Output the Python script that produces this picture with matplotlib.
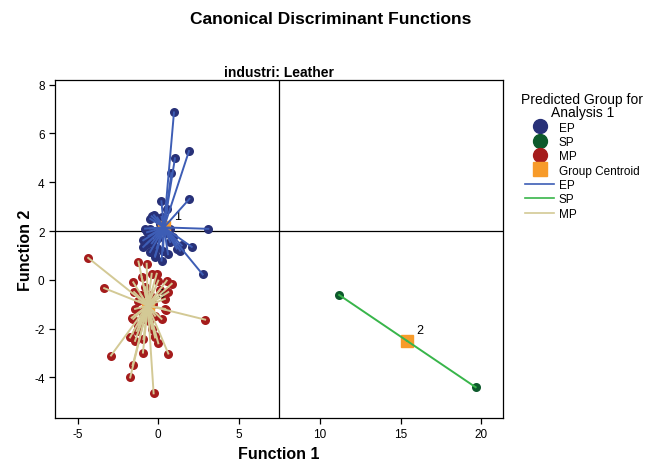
import matplotlib.pyplot as plt
from matplotlib.lines import Line2D

plt.rcParams['font.family'] = ['Liberation Sans', 'DejaVu Sans']
plt.rcParams['axes.unicode_minus'] = False

# group membership scores (Function 1, Function 2)
ep_x = [0.97, 1.9, 1.03, 0.81, 1.93, 0.19, 0.55, -0.41, -0.06, 0.2, -0.5, -0.27,
        -0.82, -0.5, 3.1, -0.93, -0.72, -0.93, -0.51, -0.2, 0.2, 0.73, 1.45, 2.07,
        1.35, 0.93, 2.75, 0.73, -0.3, 0.0, -0.1, 0.3, -0.6, 1.14, -0.7, 0.1,
        -0.4, 0.5, -0.2, 0.6]
ep_y = [6.86, 5.28, 4.98, 4.37, 3.32, 3.22, 2.9, 2.6, 2.55, 2.58, 2.5, 2.65,
        2.1, 2.1, 2.09, 1.62, 1.48, 1.35, 1.14, 1.0, 0.79, 1.55, 1.41, 1.35,
        1.2, 1.76, 0.22, 2.1, 1.9, 1.7, 1.3, 1.2, 1.8, 1.28, 1.95, 2.3,
        1.5, 1.9, 0.95, 1.05]

sp_x = [11.2, 19.65]
sp_y = [-0.62, -4.4]

mp_x = [-4.34, -3.35, 2.9, -2.93, -1.59, -1.74, -0.29, 0.62, -0.95, -1.23, -0.72,
        -1.55, -1.03, -0.41, -0.1, 0.0, 0.52, 0.83, 0.62, 0.41, 0.41, -1.23, -1.55,
        -1.44, -1.75, -1.34, -0.2, -0.2, -0.92, -1.23, 0.46, -0.2, -1.44, -1.65,
        -0.8, -0.5, -1.0, -0.3, 0.1, -0.6, -1.1, 0.2, -0.4, -0.9, -1.5, 0.0]
mp_y = [0.9, -0.34, -1.63, -3.1, -3.5, -4.0, -4.65, -3.02, -2.98, 0.75, 0.66,
        -0.1, 0.11, 0.25, 0.25, -0.03, -0.03, -0.16, -0.5, -0.78, -1.19, -0.85, -1.6,
        -1.19, -2.36, -2.09, -1.47, -2.36, -2.43, -1.88, -1.22, -2.29, -2.5, -1.55,
        -0.3, -0.6, -1.3, -1.0, -0.4, -1.7, -0.6, -1.6, -2.0, -1.6, -0.5, -2.6]

centroid_x = [0.35, 15.4, -0.65]
centroid_y = [2.15, -2.5, -1.05]
centroid_labels = ['1', '2', '3']

groups = ['EP', 'SP', 'MP']
point_colors = ['#283178', '#0d5a2c', '#a51c1c']
line_colors = ['#3d5db5', '#38b54a', '#d3c995']
centroid_color = '#f79b2a'

fig = plt.figure(figsize=(6.62, 4.64), dpi=100)
ax = fig.add_axes([0.083, 0.097, 0.677, 0.729])

all_x = [ep_x, sp_x, mp_x]
all_y = [ep_y, sp_y, mp_y]

# points at the bottom, centroids over them, star lines on top
for i in range(3):
    ax.plot(all_x[i], all_y[i], 'o', color=point_colors[i], markersize=6.5,
            markeredgewidth=0, zorder=2)
ax.plot(centroid_x, centroid_y, 's', color=centroid_color, markersize=9, zorder=2.5)
for cx, cy, lab in zip(centroid_x, centroid_y, centroid_labels):
    ax.annotate(lab, (cx, cy), xytext=(7, 6), textcoords='offset points',
                fontsize=9, zorder=2.5)
for i in range(3):
    cx, cy = centroid_x[i], centroid_y[i]
    for x, y in zip(all_x[i], all_y[i]):
        ax.plot([cx, x], [cy, y], color=line_colors[i], lw=1.4, zorder=3)

# reference lines
ax.axhline(2, color='black', lw=0.9, zorder=0)
ax.axvline(7.5, color='black', lw=0.9, zorder=0)

ax.set_xlim(-6.4, 21.35)
ax.set_ylim(-5.66, 8.2)
ax.set_xticks([-5, 0, 5, 10, 15, 20])
ax.set_yticks([-4, -2, 0, 2, 4, 6, 8])
ax.tick_params(direction='out', length=4, width=0.9, labelsize=8.5)
for s in ax.spines.values():
    s.set_linewidth(0.9)

ax.set_xlabel('Function 1', fontsize=11.5, fontweight='bold', labelpad=4)
ax.set_ylabel('Function 2', fontsize=11.5, fontweight='bold')
ax.yaxis.set_label_coords(-0.05, 0.5)
ax.set_title('industri: Leather', fontsize=10, fontweight='bold', pad=3)
fig.suptitle('Canonical Discriminant Functions', fontsize=12.5, fontweight='bold', y=0.975)

handles = []
for i in range(3):
    handles.append(Line2D([], [], ls='none', marker='o', color=point_colors[i], markersize=10))
handles.append(Line2D([], [], ls='none', marker='s', color=centroid_color, markersize=10))
for i in range(3):
    handles.append(Line2D([], [], color=line_colors[i], lw=1.2))
labels = groups + ['Group Centroid'] + groups

leg = fig.legend(handles, labels, loc='upper left', bbox_to_anchor=(0.775, 0.818),
                 frameon=False, fontsize=8.5, title='Predicted Group for\nAnalysis 1',
                 title_fontsize=10, handlelength=2.4, labelspacing=0.2,
                 handletextpad=0.4, borderpad=0.2)
leg.get_title().set_multialignment('center')
leg.get_title().set_linespacing(0.95)

fig.savefig('out.png', dpi=100)
